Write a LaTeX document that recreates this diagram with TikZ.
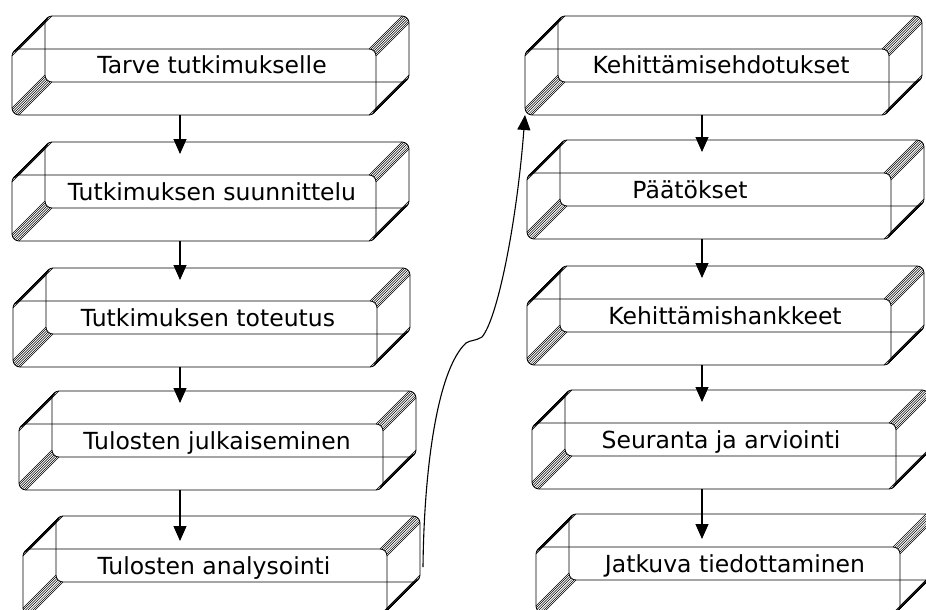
\documentclass[tikz,border=0pt]{standalone}
\usepackage{fontspec}
\setmainfont{DejaVu Sans}
\usetikzlibrary{arrows.meta}

\begin{document}
\begin{tikzpicture}[
    x=1pt, y=1pt,
    boxline/.style = {draw=black, line width=0.8pt, rounded corners=7pt},
    edgeline/.style = {draw=black, line width=0.45pt},
    darkedge/.style = {draw=black, line width=1.6pt},
    boxtext/.style = {anchor=base, inner sep=0pt, font=\fontsize{23.5}{28}\selectfont},
    flowarrow/.style = {draw=black, line width=1.1pt, -{Triangle[length=15pt, width=13pt]}},
    pics/bevelbox/.style 2 args = {code = {
        % front and back face
        \draw[boxline] (0,0) rectangle (364,66);
        \draw[boxline] (33,33) rectangle (397,99);
        % rounded edges between the faces
        \foreach \a in {0,15,...,90}
          \draw[edgeline] ([shift={(\a:7)}]357,59) -- ++(33,33);
        \foreach \a in {90,105,...,180}
          \draw[edgeline] ([shift={(\a:7)}]7,59) -- ++(33,33);
        \foreach \a in {180,195,...,270}
          \draw[edgeline] ([shift={(\a:7)}]7,7) -- ++(33,33);
        \foreach \a in {270,285,...,360}
          \draw[edgeline] ([shift={(\a:7)}]357,7) -- ++(33,33);
        \draw[darkedge] ([shift={(135:6.3)}]7,59) -- ++(33,33);
        \draw[darkedge] ([shift={(315:6.3)}]357,7) -- ++(33,33);
        \coordinate (-bot) at (0,0);
        \coordinate (-in) at (0,87);
        \coordinate (-deep) at (0,74);
        \coordinate (-east) at (400,48);
        \node[boxtext] (-t) at (#1,41) {#2};
    }}
  ]
  \useasboundingbox (0,0) rectangle (926,-610);
  \clip (0,0) rectangle (926,-610);

  % left column
  \pic (b1) at (12,-115) {bevelbox={200}{Tarve tutkimukselle}};
  \pic (b2) at (12,-241) {bevelbox={200}{Tutkimuksen suunnittelu}};
  \pic (b3) at (13,-367) {bevelbox={195}{Tutkimuksen toteutus}};
  \pic (b4) at (19,-490) {bevelbox={198}{Tulosten julkaiseminen}};
  \pic (b5) at (23,-615) {bevelbox={191}{Tulosten analysointi}};

  % right column
  \pic (r1) at (525,-115) {bevelbox={196}{Kehittämisehdotukset}};
  \pic (r2) at (527,-239) {bevelbox={163}{Päätökset}};
  \pic (r3) at (527,-365) {bevelbox={198}{Kehittämishankkeet}};
  \pic (r4) at (532,-489) {bevelbox={189}{Seuranta ja arviointi}};
  \pic (r5) at (536,-613) {bevelbox={199}{Jatkuva tiedottaminen}};

  \coordinate (colL) at (180,0);
  \coordinate (colR) at (702,0);

  \draw[flowarrow] (colL |- b1-bot) -- (colL |- b2-in);
  \draw[flowarrow] (colL |- b2-bot) -- (colL |- b3-in);
  \draw[flowarrow] (colL |- b3-bot) -- (colL |- b4-in);
  \draw[flowarrow] (colL |- b4-bot) -- (colL |- b5-deep);

  \draw[flowarrow] (colR |- r1-bot) -- (colR |- r2-in);
  \draw[flowarrow] (colR |- r2-bot) -- (colR |- r3-in);
  \draw[flowarrow] (colR |- r3-bot) -- (colR |- r4-in);
  \draw[flowarrow] (colR |- r4-bot) -- (colR |- r5-deep);

  % from the end of the left column up to the right one
  \draw[flowarrow] (b5-east) .. controls (424,-470) and (437,-370) .. (466,-343)
    .. controls (470,-340) and (476,-341) .. (482,-337)
    .. controls (498,-318) and (517,-220) .. (r1-bot);
\end{tikzpicture}
\end{document}
